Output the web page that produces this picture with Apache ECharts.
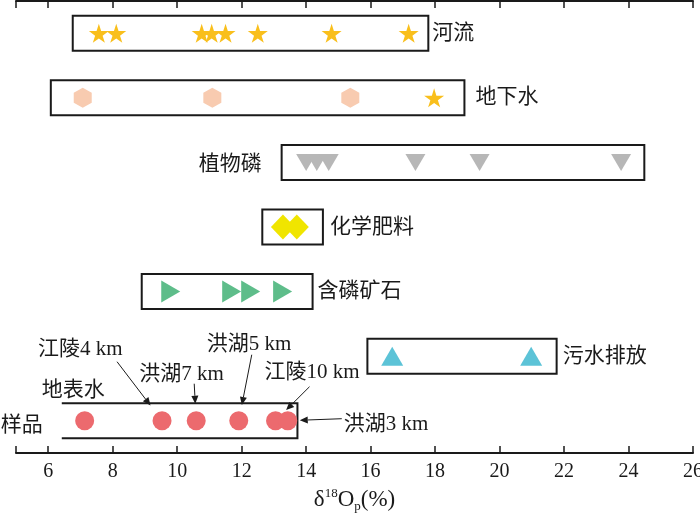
<!DOCTYPE html>
<html>
<head>
    <meta charset="utf-8">
    <script type="text/javascript" src="https://cdn.jsdelivr.net/npm/echarts@6.0.0/dist/echarts.min.js"></script>
    <style>
        html, body {margin: 0; padding: 0; background: #fff;}
    </style>
</head>
<body>
<div id="main" style="width:700px;height:522px"></div>
<script type="text/javascript">
    // 行（自下而上）
    var rows = ['样品', '污水排放', '含磷矿石', '化学肥料', '植物磷', '地下水', '河流'];
    // 每一行的范围框
    var rangeMin = [6.42, 15.9, 8.9, 12.64, 13.24, 6.08, 6.76];
    var rangeMax = [13.73, 21.77, 14.2, 14.52, 24.49, 18.91, 17.79];

    var riverVals = [7.57, 8.11, 10.76, 11.07, 11.5, 12.5, 14.79, 17.18];
    var groundVals = [7.07, 11.09, 15.37];
    var groundStarVals = [17.97];
    var plantVals = [14.0, 14.33, 14.7, 17.39, 19.38, 23.77];
    var fertVals = [13.28, 13.71];
    var oreVals = [9.8, 11.69, 12.28, 13.27];
    var sewageVals = [16.67, 20.98];
    var sampleVals = [7.13, 9.53, 10.59, 11.91, 13.05, 13.43];

    var annoLabels = ['江陵4 km', '洪湖7 km', '洪湖5 km', '江陵10 km', '洪湖3 km'];
    var annoTargets = [1, 2, 3, 4, 5];

    var tickVals = [5, 6, 8, 10, 12, 14, 16, 18, 20, 22, 24, 26];
    var labelVals = [6, 8, 10, 12, 14, 16, 18, 20, 22, 24, 26];

    var FONT = '"Liberation Serif", "Noto Sans CJK SC", serif';
    var INK = '#1a1a1a';

    // 版式：标签在左侧还是右侧、与框的间距
    var rowLabelLeft = {'样品': true, '植物磷': true};
    var rowLabelGap = [19, 6, 5, 7, 20, 11, 4];
    // 注释文字与箭头相对目标点的像素偏移
    var annoLayout = [
        {tx: -124, ty: -71, sx: -45, sy: -59, gap: 19},
        {tx: -57, ty: -46, sx: -2, sy: -37, gap: 17},
        {tx: -32, ty: -76, sx: 13, sy: -66, gap: 16},
        {tx: -11, ty: -48, sx: 34, sy: -34, gap: 15},
        {tx: 56, ty: 4, sx: 54, sy: -2, gap: 12}
    ];

    var starPath = 'path://M50,0 L61,35 L98,35 L68,57 L79,91 L50,70 L21,91 L32,57 L2,35 L39,35 Z';
    var hexPath = 'path://M50,0 L93,25 L93,75 L50,100 L7,75 L7,25 Z';

    function pts(vals, row) {
        return vals.map(function (v) { return [v, row]; });
    }

    var myChart = echarts.init(document.getElementById('main'));

    var boxData = rows.map(function (r, i) { return [rangeMin[i], rangeMax[i], i]; });

    function renderBox(params, api) {
        var i = api.value(2);
        var lo = api.coord([api.value(0), i]);
        var hi = api.coord([api.value(1), i]);
        var h = 35, top = lo[1] - h / 2;
        var children = [];
        var lineStyle = {stroke: INK, lineWidth: 2, fill: null};
        if (i === 0) {
            // 地表水样品：左侧开口
            children.push({
                type: 'polyline',
                shape: {points: [[lo[0], top], [hi[0], top], [hi[0], top + h], [lo[0], top + h]]},
                style: lineStyle
            });
            children.push({
                type: 'text',
                style: {text: '地表水', x: lo[0] - 20, y: top - 13, align: 'left', verticalAlign: 'middle',
                    fontSize: 21, fontFamily: FONT, fill: INK}
            });
        } else {
            children.push({
                type: 'rect',
                shape: {x: lo[0], y: top, width: hi[0] - lo[0], height: h},
                style: lineStyle
            });
        }
        var left = rowLabelLeft[rows[i]];
        children.push({
            type: 'text',
            style: {
                text: rows[i],
                x: left ? lo[0] - rowLabelGap[i] : hi[0] + rowLabelGap[i],
                y: lo[1] + (i === 0 ? 5 : (i === 4 ? 2 : 0)),
                align: left ? 'right' : 'left',
                verticalAlign: 'middle',
                fontSize: 21, fontFamily: FONT, fill: INK
            }
        });
        return {type: 'group', children: children};
    }

    function renderAnno(params, api) {
        var k = api.value(2);
        var c = api.coord([api.value(0), 0]);
        var L = annoLayout[k];
        var sx = c[0] + L.sx, sy = c[1] + L.sy;
        var dx = c[0] - sx, dy = c[1] - sy;
        var len = Math.sqrt(dx * dx + dy * dy);
        var ux = dx / len, uy = dy / len;
        var ex = sx + ux * (len - L.gap), ey = sy + uy * (len - L.gap);
        var al = 8, aw = 3.5;
        var bx = ex - ux * al, by = ey - uy * al;
        return {
            type: 'group',
            children: [
                {
                    type: 'line',
                    shape: {x1: sx, y1: sy, x2: bx, y2: by},
                    style: {stroke: INK, lineWidth: 1}
                },
                {
                    type: 'polygon',
                    shape: {points: [[ex, ey], [bx - uy * aw, by + ux * aw], [bx + uy * aw, by - ux * aw]]},
                    style: {fill: INK}
                },
                {
                    type: 'text',
                    style: {text: annoLabels[k], x: c[0] + L.tx, y: c[1] + L.ty, align: 'left',
                        verticalAlign: 'middle', fontSize: 21, fontFamily: FONT, fill: INK}
                }
            ]
        };
    }

    var axisCommon = {
        type: 'value',
        min: 5,
        max: 26,
        splitLine: {show: false},
        axisLine: {show: true, lineStyle: {color: INK, width: 2}},
        axisTick: {show: true, inside: true, length: 7, customValues: tickVals, lineStyle: {color: INK, width: 1.5}}
    };

    var option = {
        animation: false,
        grid: {left: 16, right: 7, top: 1, bottom: 69, containLabel: false, outerBoundsMode: 'none'},
        xAxis: [
            Object.assign({}, axisCommon, {
                position: 'bottom',
                axisLabel: {customValues: labelVals, margin: 9, fontSize: 20, fontFamily: FONT, color: INK},
                name: '{a|δ}{sup|18}{a|O}{sub|p}{a|(%)}',
                nameLocation: 'middle',
                nameGap: 32,
                nameTextStyle: {
                    fontFamily: FONT, color: INK,
                    rich: {
                        a: {fontSize: 23, fontFamily: FONT, color: INK, lineHeight: 26},
                        sup: {fontSize: 13, fontFamily: FONT, color: INK, verticalAlign: 'top', lineHeight: 26},
                        sub: {fontSize: 13, fontFamily: FONT, color: INK, verticalAlign: 'bottom', lineHeight: 26}
                    }
                }
            }),
            Object.assign({}, axisCommon, {
                position: 'top',
                axisLabel: {show: false}
            })
        ],
        yAxis: {
            type: 'category',
            data: rows,
            show: false
        },
        series: [
            {type: 'custom', renderItem: renderBox, data: boxData, encode: {x: [0, 1], y: 2}, z: 1},
            {type: 'scatter', data: pts(riverVals, '河流'), symbol: starPath, symbolSize: [20, 19],
                itemStyle: {color: '#F9BF1C', opacity: 1}, z: 3},
            {type: 'scatter', data: pts(groundVals, '地下水'), symbol: hexPath, symbolSize: [18, 20],
                itemStyle: {color: '#F8CBB0', opacity: 1}, z: 3},
            {type: 'scatter', data: pts(groundStarVals, '地下水'), symbol: starPath, symbolSize: [20, 19],
                itemStyle: {color: '#F9BF1C', opacity: 1}, z: 3},
            {type: 'scatter', data: pts(plantVals, '植物磷'), symbol: 'triangle', symbolRotate: 180,
                symbolSize: [20, 17], itemStyle: {color: '#B7B7B7', opacity: 1}, z: 3},
            {type: 'scatter', data: pts(fertVals, '化学肥料'), symbol: 'diamond', symbolSize: [24, 25],
                itemStyle: {color: '#F0E500', opacity: 1}, z: 3},
            {type: 'scatter', data: pts(oreVals, '含磷矿石'), symbol: 'triangle', symbolRotate: -90,
                symbolSize: [22, 19], itemStyle: {color: '#5EBD8A', opacity: 1}, z: 3},
            {type: 'scatter', data: pts(sewageVals, '污水排放'), symbol: 'triangle', symbolSize: [22, 19],
                itemStyle: {color: '#5CC3D7', opacity: 1}, z: 3},
            {type: 'scatter', data: pts(sampleVals, '样品'), symbol: 'circle', symbolSize: 19,
                itemStyle: {color: '#EC6A6E', opacity: 1}, z: 3},
            {type: 'custom', renderItem: renderAnno,
                data: annoTargets.map(function (t, i) { return [sampleVals[t], 0, i]; }),
                encode: {x: 0, y: 1}, z: 4, silent: true}
        ]
    };
    myChart.setOption(option);
</script>
</body>
</html>
